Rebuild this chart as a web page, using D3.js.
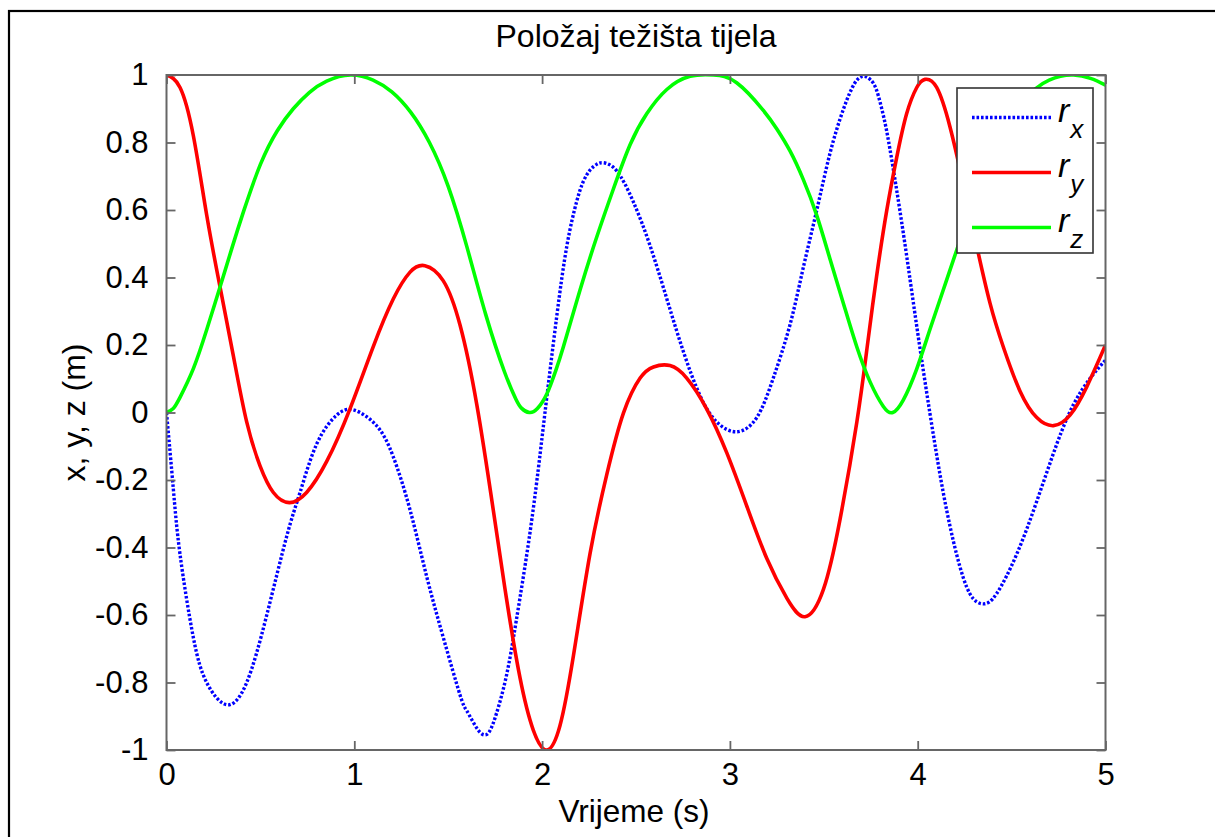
<!DOCTYPE html>
<html>
<head>
<meta charset="utf-8">
<script src="https://cdn.jsdelivr.net/npm/d3@7"></script>
<style>
  html, body { margin: 0; padding: 0; background: #fff; }
  svg { display: block; }
  text { font-family: "Liberation Sans", Arial, Helvetica, sans-serif; fill: #000; }
</style>
</head>
<body>
<svg id="chart" width="1215" height="837"></svg>
<script>
// ---- Data ----
const titleText = "Položaj težišta tijela";
const xLabelText = "Vrijeme (s)";
const yLabelText = "x, y, z (m)";
const xTicks = [0, 1, 2, 3, 4, 5];
const yTicks = [-1, -0.8, -0.6, -0.4, -0.2, 0, 0.2, 0.4, 0.6, 0.8, 1];
const yTickLabels = ["-1", "-0.8", "-0.6", "-0.4", "-0.2", "0", "0.2", "0.4", "0.6", "0.8", "1"];
const seriesNames = ["x", "y", "z"];

const rxTime  = [0, 0.036, 0.072, 0.143, 0.214, 0.32, 0.427, 0.533, 0.64, 0.711, 0.80, 0.906, 1.0, 1.12, 1.208, 1.297, 1.385, 1.474, 1.563, 1.60, 1.652, 1.69, 1.72, 1.758, 1.81, 1.863, 1.936, 1.99, 2.025, 2.078, 2.132, 2.184, 2.22, 2.255, 2.29, 2.326, 2.397, 2.486, 2.575, 2.664, 2.752, 2.841, 2.93, 3.036, 3.143, 3.231, 3.32, 3.391, 3.462, 3.533, 3.604, 3.666, 3.714, 3.75, 3.781, 3.815, 3.852, 3.923, 3.994, 4.065, 4.136, 4.207, 4.278, 4.349, 4.42, 4.527, 4.634, 4.741, 4.83, 4.919, 5.0];
const rxValue = [0, -0.224, -0.42, -0.667, -0.80, -0.866, -0.80, -0.602, -0.367, -0.237, -0.093, -0.008, 0.007, -0.04, -0.132, -0.289, -0.485, -0.667, -0.837, -0.885, -0.935, -0.955, -0.945, -0.89, -0.78, -0.615, -0.354, -0.12, 0.045, 0.285, 0.494, 0.625, 0.685, 0.718, 0.735, 0.74, 0.716, 0.624, 0.494, 0.337, 0.181, 0.05, -0.028, -0.057, -0.015, 0.102, 0.26, 0.43, 0.598, 0.768, 0.898, 0.977, 0.996, 0.985, 0.955, 0.885, 0.781, 0.533, 0.259, -0.002, -0.237, -0.42, -0.537, -0.567, -0.537, -0.42, -0.263, -0.093, 0.024, 0.102, 0.155];

const ryTime  = [0, 0.072, 0.143, 0.214, 0.285, 0.356, 0.427, 0.498, 0.569, 0.654, 0.746, 0.853, 0.977, 1.10, 1.208, 1.297, 1.376, 1.474, 1.563, 1.652, 1.74, 1.81, 1.882, 1.953, 2.025, 2.095, 2.167, 2.255, 2.344, 2.433, 2.522, 2.593, 2.681, 2.77, 2.876, 2.983, 3.089, 3.196, 3.303, 3.40, 3.498, 3.587, 3.676, 3.73, 3.781, 3.835, 3.888, 3.941, 3.995, 4.039, 4.101, 4.172, 4.243, 4.314, 4.385, 4.456, 4.545, 4.634, 4.723, 4.811, 4.9, 5.0];
const ryValue = [1, 0.963, 0.82, 0.585, 0.372, 0.168, -0.028, -0.158, -0.237, -0.267, -0.237, -0.145, 0.011, 0.194, 0.337, 0.416, 0.435, 0.39, 0.259, 0.024, -0.289, -0.55, -0.785, -0.941, -1.0, -0.928, -0.72, -0.419, -0.185, -0.002, 0.102, 0.135, 0.139, 0.102, 0.011, -0.119, -0.276, -0.432, -0.55, -0.605, -0.524, -0.315, -0.028, 0.19, 0.403, 0.598, 0.755, 0.885, 0.963, 0.987, 0.963, 0.846, 0.676, 0.494, 0.324, 0.194, 0.063, -0.015, -0.039, -0.008, 0.076, 0.2];

const rzTime  = [0, 0.036, 0.072, 0.143, 0.214, 0.285, 0.35, 0.41, 0.50, 0.59, 0.675, 0.76, 0.853, 0.98, 1.10, 1.20, 1.30, 1.40, 1.50, 1.60, 1.70, 1.80, 1.86, 1.89, 1.932, 1.975, 2.025, 2.07, 2.113, 2.202, 2.291, 2.38, 2.469, 2.557, 2.664, 2.788, 2.912, 3.036, 3.178, 3.25, 3.32, 3.391, 3.462, 3.533, 3.604, 3.676, 3.747, 3.817, 3.867, 3.923, 3.994, 4.065, 4.136, 4.207, 4.30, 4.40, 4.50, 4.625, 4.70, 4.76, 4.83, 4.92, 5.0];
const rzValue = [0, 0.012, 0.045, 0.13, 0.245, 0.372, 0.49, 0.595, 0.735, 0.835, 0.9, 0.948, 0.982, 1.0, 0.985, 0.95, 0.89, 0.80, 0.67, 0.49, 0.29, 0.12, 0.04, 0.013, 0.0, 0.012, 0.055, 0.12, 0.194, 0.363, 0.52, 0.663, 0.794, 0.885, 0.957, 0.996, 1.0, 0.977, 0.895, 0.84, 0.775, 0.69, 0.585, 0.455, 0.324, 0.194, 0.09, 0.018, 0.0, 0.037, 0.128, 0.246, 0.363, 0.48, 0.63, 0.77, 0.88, 0.958, 0.985, 0.996, 1.0, 0.99, 0.97];

// ---- Layout ----
const svg = d3.select("#chart");
const plot = { left: 166.5, right: 1105.5, top: 75, bottom: 750 };
const axisColor = "#666666";
const fontSize = 31;

// outer frame
svg.append("rect")
  .attr("x", 9).attr("y", 11)
  .attr("width", 1400).attr("height", 1000)
  .attr("fill", "none").attr("stroke", "#000").attr("stroke-width", 2.2);

const x = d3.scaleLinear().domain([0, 5]).range([plot.left, plot.right]);
const y = d3.scaleLinear().domain([-1, 1]).range([plot.bottom, plot.top]);

// clip
svg.append("defs").append("clipPath").attr("id", "plotclip")
  .append("rect")
  .attr("x", plot.left).attr("y", plot.top - 1)
  .attr("width", plot.right - plot.left).attr("height", plot.bottom - plot.top + 2);

// lines
const seriesData = [
  { name: "x", t: rxTime, v: rxValue, color: "#0000ff", dash: "2.6,1.9", width: 3.4 },
  { name: "y", t: ryTime, v: ryValue, color: "#ff0000", dash: null, width: 3.6 },
  { name: "z", t: rzTime, v: rzValue, color: "#00ff00", dash: null, width: 3.6 }
];

const line = d3.line()
  .x(d => x(d[0]))
  .y(d => y(d[1]))
  .curve(d3.curveNatural);

const lineG = svg.append("g").attr("clip-path", "url(#plotclip)");
seriesData.forEach(s => {
  const pts = s.t.map((t, i) => [t, s.v[i]]);
  lineG.append("path")
    .datum(pts)
    .attr("d", line)
    .attr("fill", "none")
    .attr("stroke", s.color)
    .attr("stroke-width", s.width)
    .attr("stroke-dasharray", s.dash)
    .attr("stroke-linejoin", "round");
});

// axes box + ticks (inside, mirrored)
const axG = svg.append("g");
const tickLen = 9;
const bottomAxis = d3.axisBottom(x).tickValues(xTicks).tickSize(-tickLen).tickPadding(13).tickFormat(d3.format("d"));
const topAxis = d3.axisTop(x).tickValues(xTicks).tickSize(-tickLen).tickFormat("");
const leftAxis = d3.axisLeft(y).tickValues(yTicks).tickSize(-tickLen).tickPadding(18)
  .tickFormat((d, i) => yTickLabels[i]);
const rightAxis = d3.axisRight(y).tickValues(yTicks).tickSize(-tickLen).tickFormat("");

function styleAxis(g) {
  g.select(".domain").remove();
  g.selectAll(".tick line").attr("stroke", axisColor).attr("stroke-width", 1.8);
  g.selectAll(".tick text")
    .attr("font-family", "Liberation Sans, Arial, sans-serif")
    .attr("font-size", fontSize).attr("fill", "#000");
}

axG.append("g").attr("transform", `translate(0,${plot.bottom})`).call(bottomAxis).call(styleAxis);
axG.append("g").attr("transform", `translate(0,${plot.top})`).call(topAxis).call(styleAxis);
axG.append("g").attr("transform", `translate(${plot.left},0)`).call(leftAxis).call(styleAxis);
axG.append("g").attr("transform", `translate(${plot.right},0)`).call(rightAxis).call(styleAxis);

axG.append("rect")
  .attr("x", plot.left).attr("y", plot.top)
  .attr("width", plot.right - plot.left).attr("height", plot.bottom - plot.top)
  .attr("fill", "none").attr("stroke", axisColor).attr("stroke-width", 2);

// title & labels
svg.append("text")
  .attr("x", (plot.left + plot.right) / 2).attr("y", 47)
  .attr("text-anchor", "middle").attr("font-size", 32)
  .text(titleText);

svg.append("text")
  .attr("x", (plot.left + plot.right) / 2 - 2).attr("y", 822)
  .attr("text-anchor", "middle").attr("font-size", 31.5)
  .text(xLabelText);

svg.append("text")
  .attr("transform", `translate(85,${(plot.top + plot.bottom) / 2}) rotate(-90)`)
  .attr("text-anchor", "middle").attr("font-size", 32)
  .text(yLabelText);

// legend
const leg = { x: 957, y: 88, w: 136, h: 165 };
const legG = svg.append("g");
legG.append("rect")
  .attr("x", leg.x).attr("y", leg.y).attr("width", leg.w).attr("height", leg.h)
  .attr("fill", "#fff").attr("stroke", "#333").attr("stroke-width", 1.6);

const legRows = d3.scaleBand().domain(seriesNames).range([leg.y + 4, leg.y + leg.h + 4]);
seriesData.forEach((s, i) => {
  const cy = legRows(seriesNames[i]) + legRows.bandwidth() / 2 - 2;
  legG.append("line")
    .attr("x1", 972).attr("x2", 1051)
    .attr("y1", cy).attr("y2", cy)
    .attr("stroke", s.color).attr("stroke-width", s.width)
    .attr("stroke-dasharray", s.dash);
  const t = legG.append("text")
    .attr("x", 1058).attr("y", cy + 4)
    .attr("font-size", 34).attr("font-style", "italic");
  t.append("tspan").text("r");
  t.append("tspan").attr("dy", 16).attr("dx", 1).attr("font-size", 26).text(seriesNames[i]);
});
</script>
</body>
</html>
